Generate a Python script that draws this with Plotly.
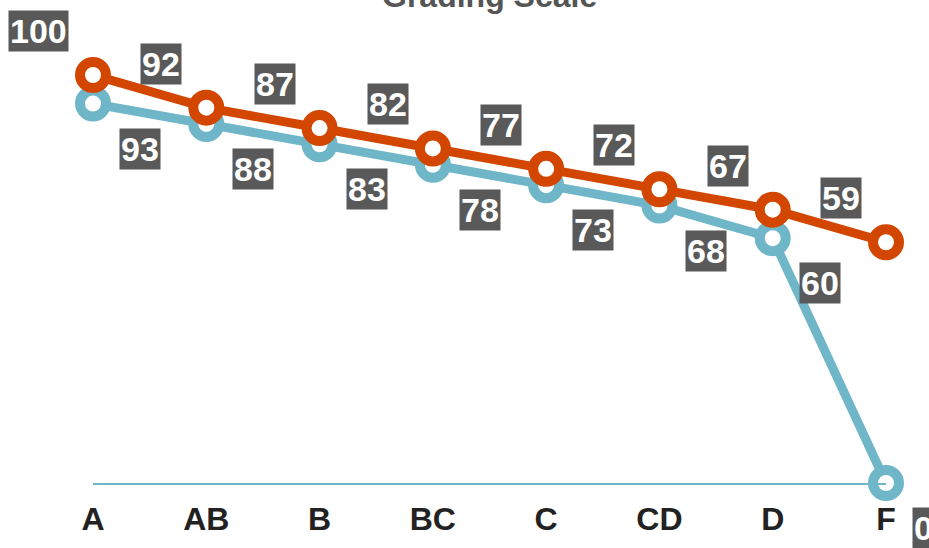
import plotly.graph_objects as go

grades = ["A", "AB", "B", "BC", "C", "CD", "D", "F"]
upper = [100, 92, 87, 82, 77, 72, 67, 59]
lower = [93, 88, 83, 78, 73, 68, 60, 0]
title_text = "Grading Scale"

RED = "#d24600"
BLUE = "#6fb6c9"
BOX = "#595959"
FONT = "Liberation Sans"

fig = go.Figure()
fig.add_trace(go.Scatter(
    x=grades, y=lower, mode="lines+markers", cliponaxis=False,
    line=dict(color=BLUE, width=9),
    marker=dict(size=26, color="white", line=dict(color=BLUE, width=10)),
    hoverinfo="skip", showlegend=False))
fig.add_trace(go.Scatter(
    x=grades, y=upper, mode="lines+markers", cliponaxis=False,
    line=dict(color=RED, width=9),
    marker=dict(size=26, color="white", line=dict(color=RED, width=10)),
    hoverinfo="skip", showlegend=False))

annos = []
for g, v in zip(grades, upper):
    annos.append(dict(x=g, y=v, xref="x", yref="y", text=str(v), showarrow=False,
                      xanchor="right", yanchor="bottom", xshift=-24, yshift=23,
                      bgcolor=BOX, borderpad=1,
                      font=dict(family=FONT, size=34, color="white", weight="bold")))
for g, v in zip(grades, lower):
    annos.append(dict(x=g, y=v, xref="x", yref="y", text=str(v), showarrow=False,
                      xanchor="left", yanchor="top", xshift=26, yshift=-24,
                      bgcolor=BOX, borderpad=1,
                      font=dict(family=FONT, size=34, color="white", weight="bold")))
annos.append(dict(x=0.5, y=1, xref="paper", yref="paper", text=title_text, showarrow=False,
                  xanchor="center", yanchor="bottom", yshift=59,
                  font=dict(family=FONT, size=32, color="#555555", weight="bold")))

fig.update_layout(
    width=929, height=548,
    margin=dict(l=93, r=43, t=75, b=65),
    plot_bgcolor="white", paper_bgcolor="white",
    annotations=annos,
    xaxis=dict(range=[0, 7], showgrid=False, zeroline=False, showline=True,
               linecolor=BLUE, linewidth=2, ticks="", ticklabelstandoff=7,
               tickfont=dict(family=FONT, size=32, color="#222222", weight="bold")),
    yaxis=dict(range=[0, 100], showgrid=False, zeroline=False, showline=False,
               showticklabels=False, ticks=""),
)
fig.write_html("out.html")
